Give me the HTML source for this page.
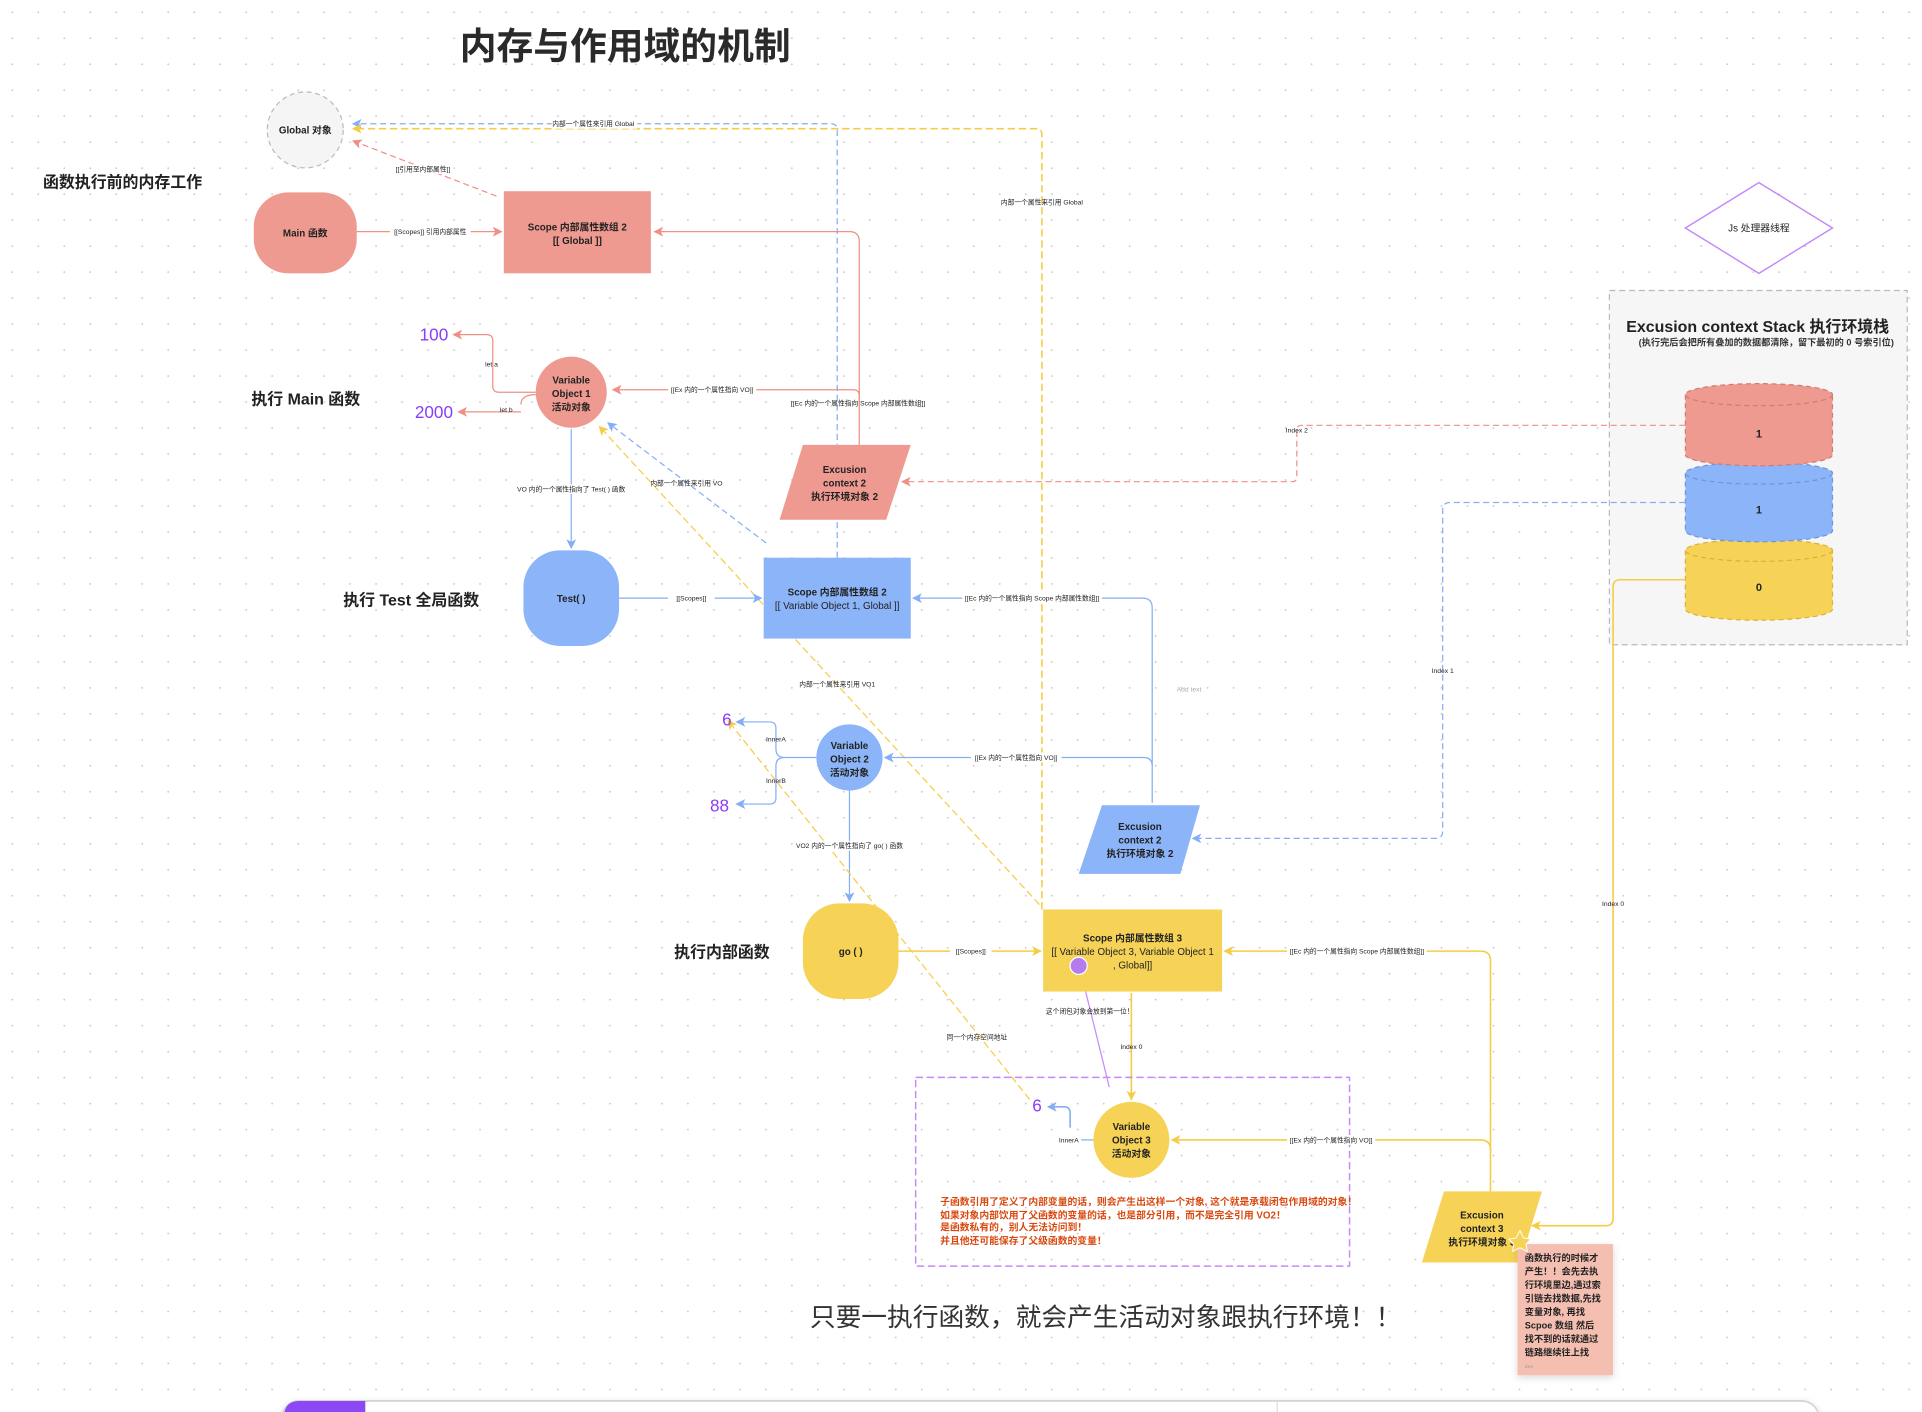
<!DOCTYPE html>
<html><head><meta charset="utf-8"><style>
html,body{margin:0;padding:0;background:#fff;}
svg{display:block;font-family:"Liberation Sans","Noto Sans CJK SC",sans-serif;}
</style></head><body>
<svg width="1922" height="1412" viewBox="0 0 1568 1152" xmlns="http://www.w3.org/2000/svg">
<defs>
<pattern id="dots" width="21.2" height="21.2" patternUnits="userSpaceOnUse"><circle cx="10" cy="10" r="0.75" fill="#c8c8c8"/></pattern>
<marker id="ar" markerWidth="8" markerHeight="8" refX="7" refY="4" orient="auto" markerUnits="userSpaceOnUse"><path d="M0,0 L8,4 L0,8 L2,4 z" fill="#ef8f85"/></marker>
<marker id="ab" markerWidth="8" markerHeight="8" refX="7" refY="4" orient="auto" markerUnits="userSpaceOnUse"><path d="M0,0 L8,4 L0,8 L2,4 z" fill="#84aef5"/></marker>
<marker id="ay" markerWidth="8" markerHeight="8" refX="7" refY="4" orient="auto" markerUnits="userSpaceOnUse"><path d="M0,0 L8,4 L0,8 L2,4 z" fill="#f5cd45"/></marker>
<filter id="sh" x="-10%" y="-10%" width="120%" height="130%"><feDropShadow dx="0" dy="2" stdDeviation="3" flood-opacity="0.15"/></filter>
</defs>
<rect width="1568" height="1152" fill="#fff"/>
<rect width="1568" height="1152" fill="url(#dots)"/>

<!-- Title -->
<text x="510" y="48" text-anchor="middle" font-size="30" font-weight="bold" fill="#2a2a2a">内存与作用域的机制</text>

<!-- section labels -->
<g font-size="13" font-weight="bold" fill="#222">
<text x="35" y="153">函数执行前的内存工作</text>
<text x="205" y="330">执行 Main 函数</text>
<text x="280" y="494">执行 Test 全局函数</text>
<text x="550" y="781">执行内部函数</text>
</g>

<!-- stack panel -->
<rect x="1313" y="237" width="243" height="289" fill="#f6f6f6" stroke="#bbb" stroke-dasharray="5,3"/>
<text x="1434" y="271" text-anchor="middle" font-size="13" font-weight="bold" fill="#222">Excusion context Stack 执行环境栈</text>
<text x="1441" y="282" text-anchor="middle" font-size="7.5" font-weight="bold" fill="#333">(执行完后会把所有叠加的数据都清除，留下最初的 0 号索引位)</text>

<!-- cylinders -->
<g stroke-dasharray="4,3" stroke-width="1">
<path d="M1375,449 L1375,497 A60,9 0 0 0 1495,497 L1495,449" fill="#f6d356" stroke="#d8b23a"/>
<ellipse cx="1435" cy="449" rx="60" ry="9" fill="#f6d356" stroke="#d8b23a"/>
<path d="M1375,386 L1375,433 A60,9 0 0 0 1495,433 L1495,386" fill="#8cb4f8" stroke="#6f95d8"/>
<ellipse cx="1435" cy="386" rx="60" ry="9" fill="#8cb4f8" stroke="#6f95d8"/>
<path d="M1375,322 L1375,371 A60,9 0 0 0 1495,371 L1495,322" fill="#ef9a90" stroke="#d27a70"/>
<ellipse cx="1435" cy="322" rx="60" ry="9" fill="#ef9a90" stroke="#d27a70"/>
</g>
<g font-size="9" font-weight="bold" fill="#222" text-anchor="middle">
<text x="1435" y="357">1</text><text x="1435" y="419">1</text><text x="1435" y="482">0</text>
</g>

<!-- diamond -->
<polygon points="1435,149 1495,186 1435,223 1375,186" fill="#fff" stroke="#c58af9" stroke-width="1.2"/>
<text x="1435" y="189" text-anchor="middle" font-size="8" fill="#222">Js 处理器线程</text>

<!-- connectors -->
<g fill="none" stroke-width="1">
<!-- blue dashed global -->
<path d="M683,455 L683,106 Q683,101 678,101 L288,101" stroke="#84aef5" stroke-dasharray="5,3" marker-end="url(#ab)"/>
<!-- yellow dashed global -->
<path d="M850,742 L850,110 Q850,105 845,105 L288,105" stroke="#f5cd45" stroke-width="1.3" stroke-dasharray="6,3" marker-end="url(#ay)"/>
<!-- red dashed scope->global -->
<path d="M405,160 L288,115" stroke="#ef8f85" stroke-dasharray="5,3" marker-end="url(#ar)"/>
<!-- main -> scope -->
<path d="M291,189 L409,189" stroke="#ef8f85" marker-end="url(#ar)"/>
<!-- ec2 red -> scope -->
<path d="M701,363 L701,197 Q701,189 693,189 L534,189" stroke="#ef8f85" marker-end="url(#ar)"/>
<!-- ec -> VO1 -->
<path d="M701,330 L701,323 Q701,318 696,318 L500,318" stroke="#ef8f85" marker-end="url(#ar)"/>
<!-- let a / let b -->
<path d="M437,320 L407,320 Q402,320 402,315 L402,278 Q402,273 397,273 L370,273" stroke="#ef8f85" marker-end="url(#ar)"/>
<path d="M425,336 L374,336" stroke="#ef8f85" marker-end="url(#ar)"/>
<path d="M437,322 Q425,322 425,330" stroke="#ef8f85"/>
<!-- index 2 -->
<path d="M1375,347 L1062,347 Q1058,347 1058,351 L1058,389 Q1058,393 1054,393 L736,393" stroke="#ef8f85" stroke-dasharray="5,3" marker-end="url(#ar)"/>
<!-- VO1 -> Test -->
<path d="M466,350 L466,447" stroke="#84aef5" marker-end="url(#ab)"/>
<!-- blue dashed to VO1 -->
<path d="M625,443 L496,345" stroke="#84aef5" stroke-dasharray="5,3" marker-end="url(#ab)"/>
<!-- yellow dashed to VO1 -->
<path d="M848,738 L489,348" stroke="#f5cd45" stroke-dasharray="6,3" marker-end="url(#ay)"/>
<!-- Test -> Scope2 -->
<path d="M505,488 L621,488" stroke="#84aef5" marker-end="url(#ab)"/>
<!-- blue ec2 -> scope2 -->
<path d="M940,655 L940,496 Q940,488 932,488 L745,488" stroke="#84aef5" marker-end="url(#ab)"/>
<!-- ec -> VO2 -->
<path d="M940,625 Q940,618 933,618 L722,618" stroke="#84aef5" marker-end="url(#ab)"/>
<!-- VO2 inner -->
<path d="M666,618 L640,618 Q633,618 633,611 L633,594 Q633,589 628,589 L601,589" stroke="#84aef5" marker-end="url(#ab)"/>
<path d="M640,618 Q633,618 633,625 L633,651 Q633,656 628,656 L601,656" stroke="#84aef5" marker-end="url(#ab)"/>
<!-- index 1 -->
<path d="M1375,410 L1183,410 Q1177,410 1177,416 L1177,678 Q1177,684 1171,684 L973,684" stroke="#84aef5" stroke-dasharray="5,3" marker-end="url(#ab)"/>
<!-- VO2 -> go -->
<path d="M693,645 L693,735" stroke="#84aef5" marker-end="url(#ab)"/>
<!-- yellow dashed same memory -->
<path d="M840,897 L594,588" stroke="#f5cd45" stroke-dasharray="6,3" marker-end="url(#ay)"/>
<!-- go -> scope3 -->
<path d="M733,776 L849,776" stroke="#f5cd45" stroke-width="1.3" marker-end="url(#ay)"/>
<!-- ec3 -> scope3 -->
<path d="M1216,972 L1216,784 Q1216,776 1208,776 L999,776" stroke="#f5cd45" stroke-width="1.3" marker-end="url(#ay)"/>
<!-- scope3 -> VO3 -->
<path d="M923,810 L923,897" stroke="#f5cd45" stroke-width="1.3" marker-end="url(#ay)"/>
<!-- ec3 -> VO3 -->
<path d="M1216,938 Q1216,930 1208,930 L956,930" stroke="#f5cd45" stroke-width="1.3" marker-end="url(#ay)"/>
<!-- index 0 -->
<path d="M1375,473 L1322,473 Q1316,473 1316,479 L1316,994 Q1316,1000 1310,1000 L1250,1000" stroke="#f5cd45" stroke-width="1.3" marker-end="url(#ay)"/>
<!-- purple line -->
<path d="M881,790 L905,887" stroke="#c58af9"/>
<!-- VO3 innerA -->
<path d="M892,930 L882,930" stroke="#84aef5"/>
<path d="M873,920 L873,908 Q873,903 868,903 L855,903" stroke="#84aef5" stroke-width="1.3" marker-end="url(#ab)"/>
</g>

<!-- purple dashed closure rect -->
<rect x="747" y="879" width="354" height="154" fill="none" stroke="#c58af9" stroke-width="1.2" stroke-dasharray="6,3"/>

<!-- nodes -->
<circle cx="249" cy="106" r="31" fill="#f5f5f5" stroke="#bbb" stroke-dasharray="4,3"/>
<text x="249" y="109" text-anchor="middle" font-size="8" font-weight="bold" fill="#222">Global 对象</text>

<rect x="207" y="157" width="84" height="66" rx="28" fill="#ef9a90"/>
<text x="249" y="193" text-anchor="middle" font-size="8" font-weight="bold" fill="#222">Main 函数</text>

<rect x="411" y="156" width="120" height="67" fill="#ef9a90"/>
<text x="471" y="188" text-anchor="middle" font-size="8" font-weight="bold" fill="#222">Scope 内部属性数组 2</text>
<text x="471" y="199" text-anchor="middle" font-size="8" font-weight="bold" fill="#222">[[ Global ]]</text>

<circle cx="466" cy="320" r="29" fill="#ef9a90"/>
<g font-size="8" font-weight="bold" fill="#222" text-anchor="middle">
<text x="466" y="313">Variable</text><text x="466" y="324">Object 1</text><text x="466" y="335">活动对象</text>
</g>

<polygon points="655,363 743,363 723,424 636,424" fill="#ef9a90"/>
<g font-size="8" font-weight="bold" fill="#222" text-anchor="middle">
<text x="689" y="386">Excusion</text><text x="689" y="397">context 2</text><text x="689" y="408">执行环境对象 2</text>
</g>

<rect x="427" y="449" width="78" height="78" rx="30" fill="#8cb4f8"/>
<text x="466" y="491" text-anchor="middle" font-size="8" font-weight="bold" fill="#222">Test( )</text>

<rect x="623" y="455" width="120" height="66" fill="#8cb4f8"/>
<text x="683" y="486" text-anchor="middle" font-size="8" font-weight="bold" fill="#222">Scope 内部属性数组 2</text>
<text x="683" y="497" text-anchor="middle" font-size="8" fill="#222">[[ Variable Object 1,  Global ]]</text>

<circle cx="693" cy="618" r="27" fill="#8cb4f8"/>
<g font-size="8" font-weight="bold" fill="#222" text-anchor="middle">
<text x="693" y="611">Variable</text><text x="693" y="622">Object 2</text><text x="693" y="633">活动对象</text>
</g>

<polygon points="899,657 979,657 963,713 880,713" fill="#8cb4f8"/>
<g font-size="8" font-weight="bold" fill="#222" text-anchor="middle">
<text x="930" y="677">Excusion</text><text x="930" y="688">context 2</text><text x="930" y="699">执行环境对象 2</text>
</g>

<rect x="655" y="737" width="78" height="78" rx="30" fill="#f6d356"/>
<text x="694" y="779" text-anchor="middle" font-size="8" font-weight="bold" fill="#222">go ( )</text>

<rect x="851" y="742" width="146" height="67" fill="#f6d356"/>
<text x="924" y="768" text-anchor="middle" font-size="8" font-weight="bold" fill="#222">Scope 内部属性数组 3</text>
<text x="924" y="779" text-anchor="middle" font-size="8" fill="#222">[[ Variable Object 3, Variable Object 1</text>
<text x="924" y="790" text-anchor="middle" font-size="8" fill="#222">, Global]]</text>
<circle cx="880" cy="788" r="7" fill="#b57cf0" stroke="#fff" stroke-width="1"/>

<circle cx="923" cy="930" r="31" fill="#f6d356"/>
<g font-size="8" font-weight="bold" fill="#222" text-anchor="middle">
<text x="923" y="922">Variable</text><text x="923" y="933">Object 3</text><text x="923" y="944">活动对象</text>
</g>

<polygon points="1178,972 1258,972 1240,1030 1160,1030" fill="#f6d356"/>
<g font-size="8" font-weight="bold" fill="#222" text-anchor="middle">
<text x="1209" y="994">Excusion</text><text x="1209" y="1005">context 3</text><text x="1209" y="1016">执行环境对象 3</text>
</g>

<!-- sticky note -->
<rect x="1238" y="1015" width="78" height="107" fill="#f4bfb0" filter="url(#sh)"/>
<polygon points="1240,1004 1243,1010 1249,1011 1245,1015 1246,1021 1240,1018 1234,1021 1235,1015 1231,1011 1237,1010" fill="#f6d356" stroke="#fff" stroke-width="0.8"/>
<g font-size="7.5" font-weight="bold" fill="#222">
<text x="1244" y="1029">函数执行的时候才</text>
<text x="1244" y="1040">产生！！会先去执</text>
<text x="1244" y="1051">行环境里边,通过索</text>
<text x="1244" y="1062">引链去找数据,先找</text>
<text x="1244" y="1073">变量对象, 再找</text>
<text x="1244" y="1084">Scpoe 数组 然后</text>
<text x="1244" y="1095">找不到的话就通过</text>
<text x="1244" y="1106">链路继续往上找</text>
</g>
<text x="1244" y="1116" font-size="4" fill="#999">Zen</text>

<!-- numbers -->
<g font-size="14" fill="#8b3cf7">
<text x="354" y="278" text-anchor="middle">100</text>
<text x="354" y="341" text-anchor="middle">2000</text>
<text x="593" y="592" text-anchor="middle">6</text>
<text x="587" y="662" text-anchor="middle">88</text>
<text x="846" y="907" text-anchor="middle">6</text>
</g>

<!-- small labels -->
<g font-size="5.5" fill="#222" text-anchor="middle">
<rect x="450" y="97" width="70" height="8" fill="#fff"/>
<text x="484" y="103">内部一个属性来引用 Global</text>
<rect x="320" y="134" width="50" height="8" fill="#fff"/>
<text x="345" y="140">[[引用至内部属性]]</text>
<rect x="318" y="185" width="66" height="8" fill="#fff"/>
<text x="351" y="191">[[Scopes]] 引用内部属性</text>
<text x="850" y="167">内部一个属性来引用 Global</text>
<text x="401" y="299">let a</text>
<text x="413" y="336">let b</text>
<rect x="545" y="314" width="72" height="8" fill="#fff"/>
<text x="581" y="320">[[Ex 内的一个属性指向 VO]]</text>
<text x="700" y="331">[[Ec 内的一个属性指向 Scope 内部属性数组]]</text>
<text x="1058" y="353">Index 2</text>
<rect x="420" y="395" width="92" height="8" fill="#fff"/>
<text x="466" y="401">VO 内的一个属性指向了 Test( ) 函数</text>
<text x="560" y="396">内部一个属性来引用 VO</text>
<rect x="545" y="484" width="38" height="8" fill="#fff"/>
<text x="564" y="490">[[Scopes]]</text>
<rect x="785" y="484" width="114" height="8" fill="#fff"/>
<text x="842" y="490">[[Ec 内的一个属性指向 Scope 内部属性数组]]</text>
<text x="683" y="560">内部一个属性来引用 VO1</text>
<text x="970" y="564" fill="#aaa">Add text</text>
<text x="1177" y="549">Index 1</text>
<text x="633" y="605">InnerA</text>
<text x="633" y="639">InnerB</text>
<rect x="792" y="614" width="74" height="8" fill="#fff"/>
<text x="829" y="620">[[Ex 内的一个属性指向 VO]]</text>
<rect x="648" y="686" width="90" height="8" fill="#fff"/>
<text x="693" y="692">VO2 内的一个属性指向了 go( ) 函数</text>
<text x="1316" y="739">Index 0</text>
<rect x="775" y="772" width="34" height="8" fill="#fff"/>
<text x="792" y="778">[[Scopes]]</text>
<rect x="1050" y="772" width="114" height="8" fill="#fff"/>
<text x="1107" y="778">[[Ec 内的一个属性指向 Scope 内部属性数组]]</text>
<text x="889" y="827">这个闭包对象会放到第一位！</text>
<text x="797" y="848">同一个内存空间地址</text>
<text x="923" y="856">Index 0</text>
<text x="872" y="932">InnerA</text>
<rect x="1050" y="926" width="72" height="8" fill="#fff"/>
<text x="1086" y="932">[[Ex 内的一个属性指向 VO]]</text>
</g>

<!-- red closure text -->
<g font-size="8" fill="#d9480f" font-weight="bold">
<text x="767" y="983">子函数引用了定义了内部变量的话，则会产生出这样一个对象, 这个就是承载闭包作用域的对象！</text>
<text x="767" y="994">如果对象内部饮用了父函数的变量的话，也是部分引用，而不是完全引用 VO2！</text>
<text x="767" y="1004">是函数私有的，别人无法访问到！</text>
<text x="767" y="1015">并且他还可能保存了父级函数的变量！</text>
</g>

<text x="902" y="1082" text-anchor="middle" font-size="21" fill="#333">只要一执行函数，就会产生活动对象跟执行环境！！</text>

<!-- bottom toolbar -->
<rect x="230" y="1143" width="1254" height="30" rx="14" fill="#fff" stroke="#d6d6d6" stroke-width="1.5" filter="url(#sh)"/>
<path d="M244,1143 L298,1143 L298,1152 L232,1152 Q234,1143 244,1143 z" fill="#8b48f4"/>
<line x1="1042" y1="1144" x2="1042" y2="1152" stroke="#ddd"/>
</svg>
</body></html>
